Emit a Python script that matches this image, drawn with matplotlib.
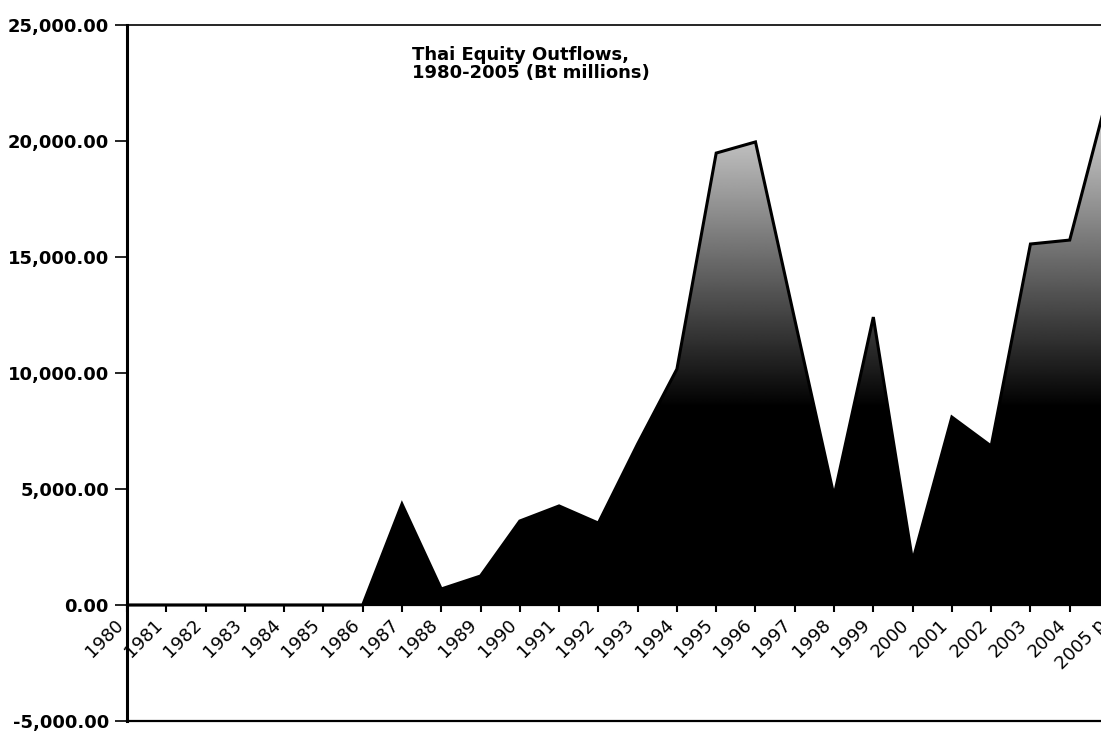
import numpy as np
import matplotlib
matplotlib.use("Agg")
import matplotlib.pyplot as plt
from matplotlib.patches import Polygon
from matplotlib.ticker import FuncFormatter

# Thai equity outflows, Bt millions
years = list(range(1980, 2006))
year_labels = [str(y) for y in years[:-1]] + ["2005 p"]
outflows = [0, 0, 0, 0, 0, 0, 0, 4350, 690, 1250, 3620, 4270, 3530, 6940,
            10170, 19480, 19960, 12300, 4700, 12410, 1900, 8100, 6850,
            15560, 15730, 22200]

plt.rcParams["font.family"] = "DejaVu Sans"

fig = plt.figure(figsize=(11.01, 7.31), dpi=100)
ax = fig.add_axes([127 / 1101, 10 / 731, 982 / 1101, 696 / 731])
ax.set_xlim(1980, 2005)
ax.set_ylim(-5000, 25000)

# area outline, filled with a vertical black-to-grey gradient
verts = [(years[0], 0)] + list(zip(years, outflows)) + [(years[-1], 0)]
poly = Polygon(verts, closed=True, facecolor="none", edgecolor="none")
ax.add_patch(poly)

yy = np.linspace(0, 25000, 600)
shade = np.clip((yy - 8500) / 12500, 0, 1) * 0.82
grad = np.repeat(shade[:, None], 2, axis=1)
img = ax.imshow(grad, extent=[1980, 2005, 0, 25000], origin="lower",
                cmap="gray", vmin=0, vmax=1, aspect="auto", zorder=2)
img.set_clip_path(poly)

ax.plot(years, outflows, color="black", lw=2.2, zorder=3,
        solid_joinstyle="miter")

# zero axis carries the year ticks; frame line at the bottom
ax.spines["bottom"].set_position(("data", 0))
ax.spines["bottom"].set_linewidth(1.6)
ax.spines["bottom"].set_zorder(4)
ax.spines["left"].set_linewidth(2.2)
ax.spines["top"].set_linewidth(1.2)
ax.spines["right"].set_visible(False)
ax.axhline(-5000, color="black", lw=1.6, clip_on=False)

ax.set_xticks(years)
ax.set_xticklabels(year_labels, rotation=45, ha="right", va="top",
                   fontsize=13)
ax.tick_params(axis="x", direction="out", length=5, width=1.5, pad=3)

ax.set_yticks(range(-5000, 25001, 5000))
ax.yaxis.set_major_formatter(FuncFormatter(lambda v, p: f"{v:,.2f}"))
for lab in ax.get_yticklabels():
    lab.set_fontweight("bold")
ax.tick_params(axis="y", direction="out", length=9, width=1.2,
               labelsize=13, pad=4)

ax.text(1987.25, 24100, "Thai Equity Outflows,\n1980-2005 (Bt millions)",
        fontsize=13, fontweight="bold", va="top", ha="left",
        linespacing=1.0, zorder=5)

fig.savefig("out.png", dpi=100)
